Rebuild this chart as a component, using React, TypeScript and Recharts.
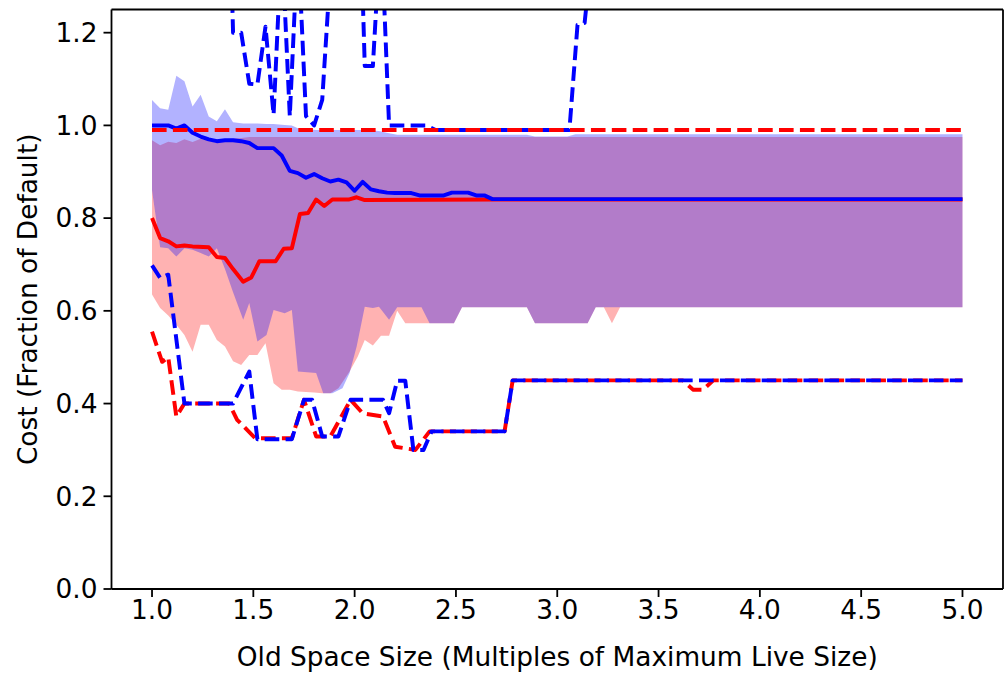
import React from 'react';
import { ComposedChart, Area, Line, XAxis, YAxis, ReferenceLine } from 'recharts';

type Pt = [number, number];
type Band = [number, number, number];

const W = 1004;
const H = 675;
const FONT = '"DejaVu Sans", sans-serif';
const FS = 26.4;
const RED = '#ff0000';
const BLUE = '#0000ff';
const LW = 3.96;
const DASH = '14.6 6.3';

const xTicks = [1.0, 1.5, 2.0, 2.5, 3.0, 3.5, 4.0, 4.5, 5.0];
const yTicks = [0, 0.2, 0.4, 0.6, 0.8, 1.0, 1.2];

// shaded spread per size: [size, low, high]
const redSpread: Band[] = [
  [1.0, 0.635, 0.968], [1.04, 0.606, 0.957], [1.08, 0.59, 0.965], [1.12, 0.57, 0.962],
  [1.16, 0.548, 0.97], [1.2, 0.512, 0.964], [1.24, 0.57, 0.971], [1.28, 0.57, 0.968],
  [1.32, 0.537, 0.97], [1.36, 0.523, 0.97], [1.4, 0.491, 0.972], [1.44, 0.483, 0.973],
  [1.48, 0.505, 0.975], [1.52, 0.505, 0.975], [1.56, 0.53, 0.975], [1.6, 0.444, 0.975],
  [1.64, 0.43, 0.975], [1.68, 0.43, 0.975], [1.72, 0.426, 0.975], [1.76, 0.425, 0.975],
  [1.8, 0.424, 0.975], [1.84, 0.422, 0.975], [1.88, 0.422, 0.975], [1.92, 0.433, 0.975],
  [1.975, 0.469, 0.975], [2.015, 0.501, 0.975], [2.05, 0.537, 0.975], [2.09, 0.525, 0.975],
  [2.13, 0.546, 0.975], [2.17, 0.546, 0.975], [2.21, 0.6, 0.975], [2.25, 0.573, 0.975],
  [2.49, 0.573, 0.975], [2.53, 0.608, 0.975], [2.85, 0.608, 0.975], [2.89, 0.573, 0.975],
  [3.15, 0.573, 0.975], [3.19, 0.608, 0.975], [3.23, 0.608, 0.975], [3.27, 0.573, 0.975],
  [3.31, 0.608, 0.975], [5.0, 0.608, 0.975],
];

const blueSpread: Band[] = [
  [1.0, 0.86, 1.055], [1.04, 0.737, 1.037], [1.08, 0.735, 1.034], [1.12, 0.717, 1.107],
  [1.16, 0.735, 1.095], [1.2, 0.732, 1.041], [1.24, 0.725, 1.066], [1.28, 0.717, 1.019],
  [1.32, 0.735, 1.009], [1.36, 0.69, 1.035], [1.4, 0.64, 1.007], [1.45, 0.581, 1.004],
  [1.48, 0.617, 1.004], [1.52, 0.534, 1.004], [1.565, 0.548, 1.003], [1.6, 0.602, 1.003],
  [1.655, 0.595, 1.001], [1.69, 0.602, 1.0], [1.72, 0.469, 0.994], [1.81, 0.466, 0.99],
  [1.845, 0.422, 0.99], [1.89, 0.422, 0.99], [1.94, 0.433, 0.99], [1.975, 0.466, 0.99],
  [2.01, 0.523, 0.99], [2.05, 0.609, 0.99], [2.09, 0.606, 0.989], [2.12, 0.609, 0.988],
  [2.17, 0.581, 0.983], [2.21, 0.608, 0.98], [2.33, 0.608, 0.98], [2.37, 0.573, 0.98],
  [2.49, 0.573, 0.98], [2.53, 0.608, 0.98], [2.85, 0.608, 0.98], [2.89, 0.573, 0.976],
  [3.05, 0.573, 0.976], [3.09, 0.573, 0.981], [3.15, 0.573, 0.981], [3.19, 0.608, 0.981],
  [5.0, 0.608, 0.981],
];

const redMedian: Pt[] = [
  [1.0, 0.8], [1.04, 0.757], [1.08, 0.75], [1.12, 0.739], [1.16, 0.741], [1.2, 0.739],
  [1.28, 0.737], [1.32, 0.716], [1.36, 0.714], [1.4, 0.69], [1.45, 0.663], [1.49, 0.672],
  [1.53, 0.707], [1.61, 0.707], [1.65, 0.734], [1.69, 0.735], [1.73, 0.809], [1.77, 0.811],
  [1.81, 0.84], [1.85, 0.826], [1.89, 0.84], [1.97, 0.84], [2.01, 0.845], [2.05, 0.839],
  [2.7, 0.84], [5.0, 0.84],
];

const blueMedian: Pt[] = [
  [1.0, 1.0], [1.04, 1.0], [1.08, 1.0], [1.12, 0.993], [1.16, 1.0], [1.2, 0.984],
  [1.24, 0.976], [1.28, 0.97], [1.32, 0.966], [1.36, 0.968], [1.4, 0.968], [1.44, 0.966],
  [1.48, 0.962], [1.52, 0.951], [1.6, 0.951], [1.64, 0.935], [1.68, 0.902], [1.72, 0.897],
  [1.76, 0.887], [1.8, 0.895], [1.84, 0.886], [1.88, 0.879], [1.92, 0.883], [1.96, 0.877],
  [2.0, 0.859], [2.04, 0.878], [2.08, 0.862], [2.12, 0.858], [2.16, 0.855], [2.2, 0.854],
  [2.28, 0.854], [2.32, 0.849], [2.44, 0.849], [2.48, 0.855], [2.56, 0.855], [2.6, 0.849],
  [2.64, 0.849], [2.68, 0.841], [5.0, 0.841],
];

const redMin: Pt[] = [
  [1.0, 0.555], [1.05, 0.49], [1.08, 0.5], [1.12, 0.372], [1.16, 0.4], [1.38, 0.4],
  [1.42, 0.365], [1.51, 0.325], [1.69, 0.325], [1.75, 0.408], [1.81, 0.329], [1.88, 0.329],
  [1.98, 0.408], [2.04, 0.379], [2.14, 0.372], [2.2, 0.307], [2.3, 0.3], [2.37, 0.34],
  [2.74, 0.34], [2.78, 0.45], [3.62, 0.45], [3.67, 0.43], [3.72, 0.43], [3.77, 0.45],
  [5.0, 0.45],
];

const blueMin: Pt[] = [
  [1.0, 0.698], [1.04, 0.671], [1.08, 0.678], [1.16, 0.4], [1.4, 0.4], [1.48, 0.469],
  [1.52, 0.323], [1.69, 0.323], [1.75, 0.408], [1.79, 0.408], [1.84, 0.329], [1.92, 0.329],
  [1.98, 0.408], [2.14, 0.408], [2.17, 0.379], [2.21, 0.449], [2.25, 0.449], [2.29, 0.3],
  [2.34, 0.3], [2.38, 0.34], [2.74, 0.34], [2.78, 0.45], [5.0, 0.45],
];

const redMax: Pt[] = [[1.0, 0.99], [5.0, 0.99]];

// runs past the top of the axes for most sizes below 1.36 and above 3.15
const blueMax: Pt[] = [
  [1.36, 1.86], [1.4, 1.2], [1.44, 1.2], [1.48, 1.09], [1.52, 1.088], [1.56, 1.213],
  [1.6, 1.023], [1.64, 1.4], [1.68, 1.02], [1.72, 1.4], [1.76, 1.02], [1.8, 1.0],
  [1.84, 1.055], [1.88, 1.33], [1.92, 1.5], [1.96, 1.6], [2.0, 1.87], [2.05, 1.128],
  [2.09, 1.128], [2.13, 1.435], [2.17, 1.0], [2.35, 1.0], [2.4, 0.99], [3.06, 0.99],
  [3.1, 1.217], [3.135, 1.221], [3.18, 1.41], [5.0, 1.5],
];

const points = (pts: Pt[]) => pts.map(([x, y]) => ({ x, y }));
const spread = (rows: Band[]) => rows.map(([x, lo, hi]) => ({ x, range: [lo, hi] }));

const tickStyle = { fill: '#000', fontSize: FS, fontFamily: FONT };
const spine = { stroke: '#000', strokeWidth: 1.8 };

const XTitle = ({ viewBox }: any) => (
  <text
    x={viewBox.x + viewBox.width / 2}
    y={viewBox.y + 77}
    textAnchor="middle"
    fontFamily={FONT}
    fontSize={FS}
    fill="#000"
  >
    Old Space Size (Multiples of Maximum Live Size)
  </text>
);

const YTitle = ({ viewBox }: any) => {
  const cx = 27;
  const cy = viewBox.y + viewBox.height / 2;
  return (
    <text
      x={cx}
      y={cy}
      transform={`rotate(-90, ${cx}, ${cy})`}
      textAnchor="middle"
      dominantBaseline="central"
      fontFamily={FONT}
      fontSize={FS}
      fill="#000"
    >
      Cost (Fraction of Default)
    </text>
  );
};

export default function App() {
  return (
    <div style={{ position: 'absolute', left: 0, top: 0, width: W, height: H, background: '#fff' }}>
      <ComposedChart width={W} height={H} margin={{ top: 9.5, right: 1, bottom: 0, left: 0 }}>
        <XAxis
          dataKey="x"
          type="number"
          domain={[0.8, 5.2]}
          ticks={xTicks}
          allowDataOverflow
          height={86}
          tickSize={8}
          tickMargin={3}
          tick={tickStyle}
          tickFormatter={(v: number) => v.toFixed(1)}
          axisLine={spine}
          tickLine={spine}
          label={{ content: XTitle }}
        />
        <YAxis
          type="number"
          domain={[0, 1.25]}
          ticks={yTicks}
          allowDataOverflow
          width={111.5}
          tickSize={8}
          tickMargin={6}
          tick={tickStyle}
          tickFormatter={(v: number) => v.toFixed(1)}
          axisLine={spine}
          tickLine={spine}
          label={{ content: YTitle }}
        />

        <Area
          data={spread(redSpread)}
          dataKey="range"
          type="linear"
          stroke="none"
          fill={RED}
          fillOpacity={0.3}
          isAnimationActive={false}
        />
        <Area
          data={spread(blueSpread)}
          dataKey="range"
          type="linear"
          stroke="none"
          fill={BLUE}
          fillOpacity={0.3}
          isAnimationActive={false}
        />

        <Line data={points(redMin)} dataKey="y" type="linear" stroke={RED} strokeWidth={LW}
          strokeDasharray={DASH} strokeLinejoin="round" dot={false} activeDot={false} isAnimationActive={false} />
        <Line data={points(blueMin)} dataKey="y" type="linear" stroke={BLUE} strokeWidth={LW}
          strokeDasharray={DASH} strokeLinejoin="round" dot={false} activeDot={false} isAnimationActive={false} />
        <Line data={points(redMedian)} dataKey="y" type="linear" stroke={RED} strokeWidth={LW}
          strokeLinejoin="round" dot={false} activeDot={false} isAnimationActive={false} />
        <Line data={points(blueMedian)} dataKey="y" type="linear" stroke={BLUE} strokeWidth={LW}
          strokeLinejoin="round" dot={false} activeDot={false} isAnimationActive={false} />
        <Line data={points(blueMax)} dataKey="y" type="linear" stroke={BLUE} strokeWidth={LW}
          strokeDasharray={DASH} strokeLinejoin="round" dot={false} activeDot={false} isAnimationActive={false} />
        <Line data={points(redMax)} dataKey="y" type="linear" stroke={RED} strokeWidth={LW}
          strokeDasharray={DASH} strokeLinejoin="round" dot={false} activeDot={false} isAnimationActive={false} />

        <ReferenceLine y={1.25} stroke="#000" strokeWidth={1.8} />
        <ReferenceLine x={5.2} stroke="#000" strokeWidth={1.8} />
      </ComposedChart>
    </div>
  );
}
